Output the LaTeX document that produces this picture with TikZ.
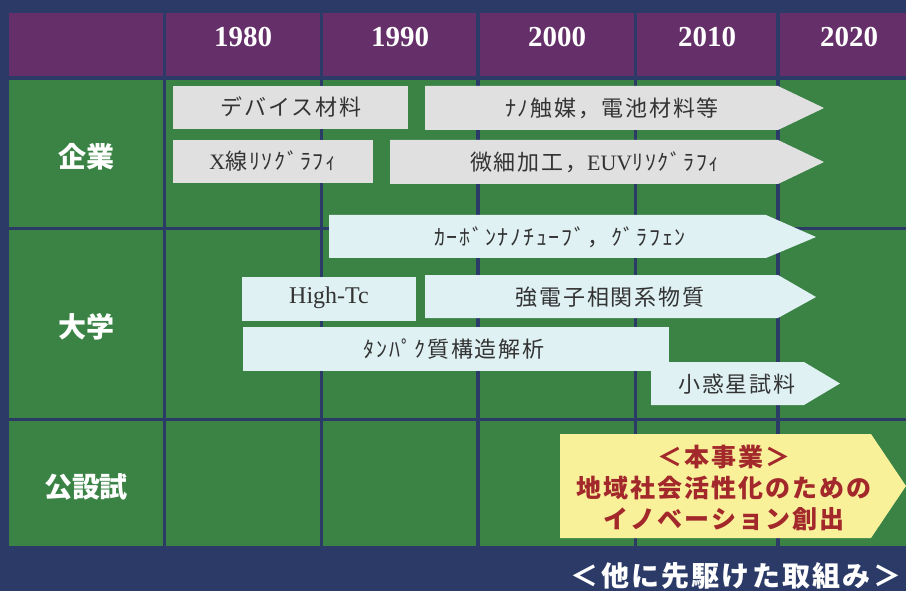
\documentclass[tikz,border=0pt]{standalone}
\usepackage{fontspec}
\setmainfont{Liberation Serif}
\newfontfamily\cjk{Noto Sans CJK JP}
\newfontfamily\cjksp[LetterSpace=8]{Noto Sans CJK JP}
\definecolor{navy}{HTML}{2B3A67}
\definecolor{hdr}{HTML}{652F69}
\definecolor{grn}{HTML}{3A8345}
\definecolor{boxgray}{HTML}{E0E0E0}
\definecolor{boxcyan}{HTML}{DFF1F3}
\definecolor{boxyel}{HTML}{F9F19A}
\definecolor{redtxt}{HTML}{A3282B}
\definecolor{txt}{HTML}{333333}
\begin{document}
\begin{tikzpicture}[x=1pt,y=-1pt,
  year/.style={text=white,inner sep=0,font=\fontsize{29}{29}\selectfont\bfseries},
  rowlab/.style={text=white,inner sep=0,font=\cjk\bfseries\fontsize{28}{28}\selectfont},
  lbl/.style={text=txt,inner sep=0,font=\cjksp\fontsize{22}{22}\selectfont},
  grayfill/.style={fill=boxgray},
  cyanfill/.style={fill=boxcyan},
  gridline/.style={draw=navy,line width=3.5pt},
  yeltext/.style={text=redtxt,inner sep=0,align=center,font=\cjksp\bfseries\fontsize{25}{31}\selectfont},
  foot/.style={text=white,inner sep=0,font=\cjksp\bfseries\fontsize{28}{28}\selectfont}]
\fill[navy] (0,0) rectangle (906,591);
\useasboundingbox (0,0) rectangle (906,591);
% table
\fill[hdr] (9,13) rectangle (906,77);
\fill[grn] (9,79) rectangle (906,546);
\foreach \x in {164.3,321.7,478,635.7,778} \path[gridline] (\x,13) -- (\x,546);
\foreach \y in {78,228.5,419.5} \path[gridline] (9,\y) -- (906,\y);
% years
\node[year] (y1980) at (243,37) {1980};
\node[year] (y1990) at (400,37) {1990};
\node[year] (y2000) at (557,37) {2000};
\node[year] (y2010) at (707,37) {2010};
\node[year] (y2020) at (849,37) {2020};
% row labels
\node[rowlab] (kigyo) at (86,157) {企業};
\node[rowlab] (daigaku) at (86,327) {大学};
\node[rowlab] (kosetsu) at (86,487) {公設試};
% row 1
\fill[grayfill] (173,86) rectangle (408,129);
\node[lbl] (devmat) at (291,107) {デバイス材料};
\fill[grayfill] (173,140) rectangle (373,183);
\node[lbl] (xray) at (273,161) {{\rmfamily X}線ﾘｿｸﾞﾗﾌｨ};
\fill[grayfill] (425,86) -- (778,86) -- (824,108) -- (778,130) -- (425,130) -- cycle;
\node[lbl] (nano) at (612,108) {ﾅﾉ触媒，電池材料等};
\fill[grayfill] (390,140) -- (778,140) -- (824,162) -- (778,184) -- (390,184) -- cycle;
\node[lbl] (euv) at (595,162) {微細加工，{\rmfamily EUV}ﾘｿｸﾞﾗﾌｨ};
% row 2
\fill[cyanfill] (329,215) -- (766,215) -- (816,237) -- (766,258) -- (329,258) -- cycle;
\node[lbl] (cnt) at (560,237) {ｶｰﾎﾞﾝﾅﾉﾁｭｰﾌﾞ，ｸﾞﾗﾌｪﾝ};
\fill[cyanfill] (242,277) rectangle (416,321);
\node[lbl,font=\fontsize{24}{24}\selectfont] (hightc) at (329,298) {High-Tc};
\fill[cyanfill] (425,275) -- (778,275) -- (816,297) -- (778,318) -- (425,318) -- cycle;
\node[lbl] (kyoden) at (610,297) {強電子相関系物質};
\fill[cyanfill] (243,327) rectangle (669,371);
\node[lbl] (protein) at (454,349) {ﾀﾝﾊﾟｸ質構造解析};
\fill[cyanfill] (651,362) -- (804,362) -- (840,383.5) -- (804,405) -- (651,405) -- cycle;
\node[lbl] (asteroid) at (737,384) {小惑星試料};
% row 3
\fill[boxyel] (560,434) -- (871,434) -- (906,486) -- (871,538) -- (560,538) -- cycle;
\node[yeltext] (honjigyo) at (724,488) {＜本事業＞\\地域社会活性化のための\\イノベーション創出};
% footer
\node[foot] (saki) at (736,576) {＜他に先駆けた取組み＞};
\end{tikzpicture}
\end{document}
